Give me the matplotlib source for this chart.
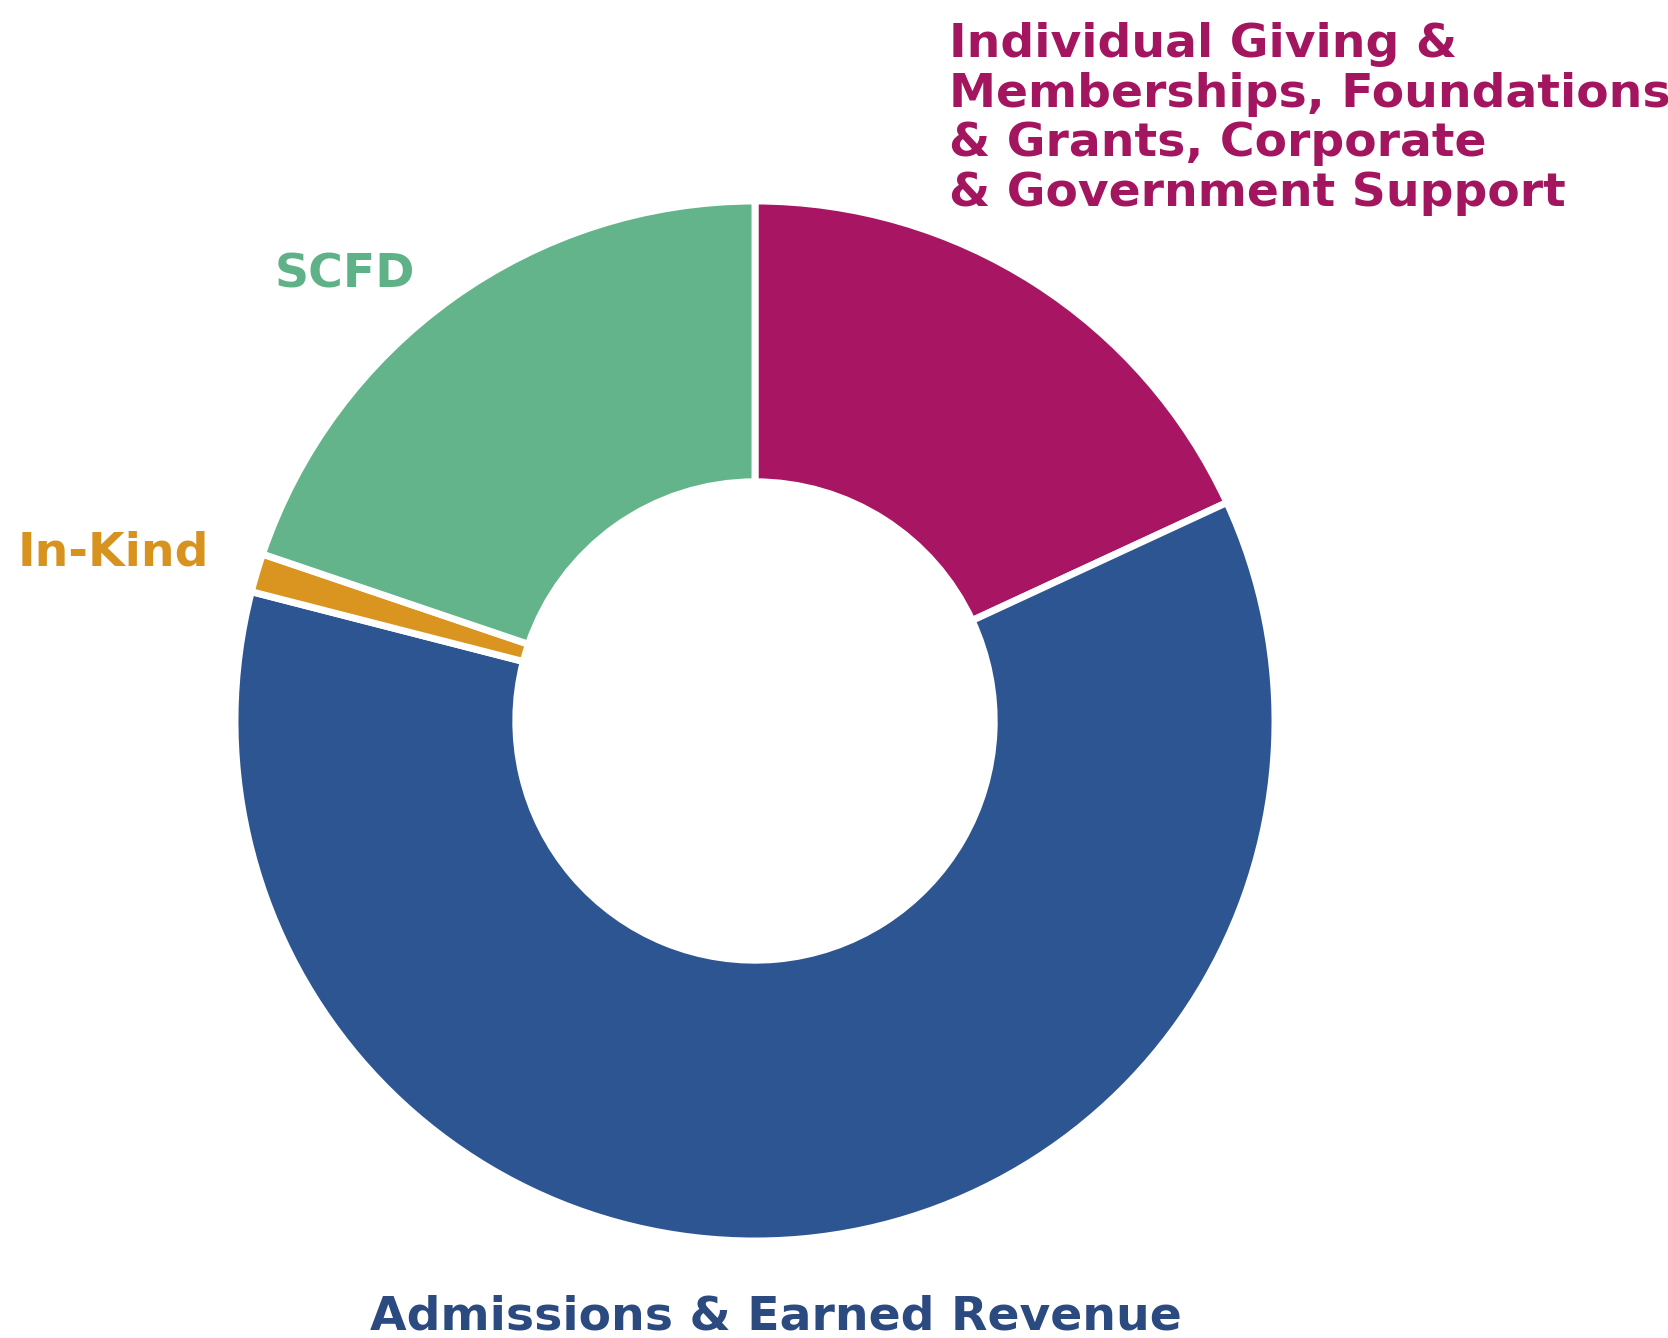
import matplotlib
matplotlib.use("Agg")
import matplotlib.pyplot as plt

categories = ["Individual Giving &\nMemberships, Foundations\n& Grants, Corporate\n& Government Support",
              "Admissions & Earned Revenue", "In-Kind", "SCFD"]
values = [18.1, 60.9, 1.2, 19.8]
colors = ["#A81562", "#2D5592", "#DA9420", "#63B48B"]
label_colors = ["#A3165F", "#2A4A80", "#D8921E", "#5FB188"]

W, H = 1668, 1338
fig = plt.figure(figsize=(W / 100, H / 100), dpi=100)
cx, cy, R = 755, 721, 520
ax = fig.add_axes([(cx - R) / W, (H - cy - R) / H, 2 * R / W, 2 * R / H])
ax.pie(values, colors=colors, startangle=90, counterclock=False, radius=1.0,
       wedgeprops=dict(width=0.54, edgecolor="white", linewidth=5))
ax.set_xlim(-1, 1)
ax.set_ylim(-1, 1)
ax.set_aspect("equal")
ax.axis("off")

font = dict(family="DejaVu Sans", weight="bold")
def px(x, y):
    return x / W, 1 - y / H

fig.text(*px(949, 22), categories[0], color=label_colors[0], fontsize=34,
         ha="left", va="top", linespacing=1.13, **font)
fig.text(*px(776, 1330), categories[1], color=label_colors[1], fontsize=34,
         ha="center", va="baseline", **font)
fig.text(*px(18, 566), categories[2], color=label_colors[2], fontsize=34,
         ha="left", va="baseline", **font)
fig.text(*px(275, 287), categories[3], color=label_colors[3], fontsize=34,
         ha="left", va="baseline", **font)

fig.savefig("out.png", dpi=100, facecolor="white")
